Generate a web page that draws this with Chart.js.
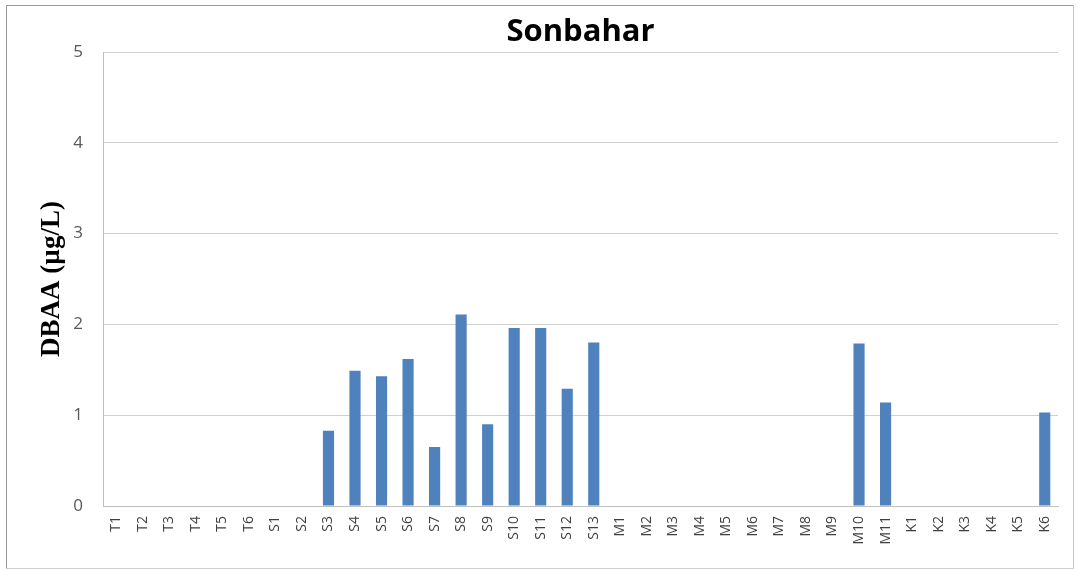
<!DOCTYPE html>
<html>
<head>
<meta charset="utf-8">
<script src="https://cdn.jsdelivr.net/npm/chart.js@4"></script>
<style>
    body { margin: 0; background: #fff; }
    #frame {
        position: absolute; left: 6px; top: 5px;
        width: 1068px; height: 564px;
        border: 1px solid #9a9a9a; border-right-color: #c8c8c8; border-bottom-color: #d0d0d0;
        box-sizing: border-box;
    }
    #wrap { position: absolute; left: 0; top: 0; width: 1078px; height: 571px; }
</style>
</head>
<body>
<div id="frame"></div>
<div id="wrap"><canvas id="dbaaChart" width="1078" height="571"></canvas></div>
<script>
// sampling stations, autumn campaign
const stations = ['T1', 'T2', 'T3', 'T4', 'T5', 'T6',
    'S1', 'S2', 'S3', 'S4', 'S5', 'S6', 'S7', 'S8', 'S9', 'S10', 'S11', 'S12', 'S13',
    'M1', 'M2', 'M3', 'M4', 'M5', 'M6', 'M7', 'M8', 'M9', 'M10', 'M11',
    'K1', 'K2', 'K3', 'K4', 'K5', 'K6'];

// DBAA concentrations (µg/L)
const dbaa = [0, 0, 0, 0, 0, 0,
    0, 0, 0.83, 1.49, 1.43, 1.62, 0.65, 2.11, 0.90, 1.96, 1.96, 1.29, 1.80,
    0, 0, 0, 0, 0, 0, 0, 0, 0, 1.79, 1.14,
    0, 0, 0, 0, 0, 1.03];

const yTicks = [0, 1, 2, 3, 4, 5];

document.addEventListener('DOMContentLoaded', function() {
    const ctx = document.getElementById('dbaaChart').getContext('2d');
    new Chart(ctx, {
        type: 'bar',
        data: {
            labels: stations,
            datasets: [{
                label: 'DBAA',
                data: dbaa,
                backgroundColor: '#4f81bd',
                borderWidth: 0,
                categoryPercentage: 1.0,
                barPercentage: 0.42
            }]
        },
        options: {
            responsive: false,
            maintainAspectRatio: false,
            animation: false,
            devicePixelRatio: 1,
            layout: { padding: { left: 36, right: 20, top: 0, bottom: 0 } },
            plugins: {
                legend: { display: false },
                tooltip: { enabled: false },
                title: {
                    display: true,
                    fullSize: false,
                    text: 'Sonbahar',
                    color: '#000',
                    font: { family: '"Open Sans", sans-serif', size: 31, weight: 'bold' },
                    padding: { top: 14, bottom: 0.8 }
                }
            },
            scales: {
                x: {
                    grid: { display: false, drawTicks: false },
                    border: { display: true, color: '#bfbfbf' },
                    ticks: {
                        color: '#404040',
                        font: { family: '"Open Sans", sans-serif', size: 14 },
                        minRotation: 90,
                        maxRotation: 90,
                        autoSkip: false,
                        padding: 10
                    },
                    afterFit: function(scale) { scale.height = 65; }
                },
                y: {
                    min: 0,
                    max: 5,
                    afterBuildTicks: function(scale) {
                        scale.ticks = yTicks.map(v => ({ value: v }));
                    },
                    grid: { color: '#d0d0d0', lineWidth: 1, drawTicks: false },
                    border: { display: true, color: '#bfbfbf' },
                    ticks: {
                        color: '#595959',
                        font: { family: '"Open Sans", sans-serif', size: 17 },
                        padding: 20
                    },
                    title: {
                        display: true,
                        text: 'DBAA (µg/L)',
                        color: '#000',
                        font: { family: '"Liberation Serif", "Times New Roman", serif', size: 27, weight: 'bold' },
                        padding: { top: 0, bottom: 0 }
                    },
                    afterFit: function(scale) { scale.width = 67; }
                }
            }
        }
    });
});
</script>
</body>
</html>
